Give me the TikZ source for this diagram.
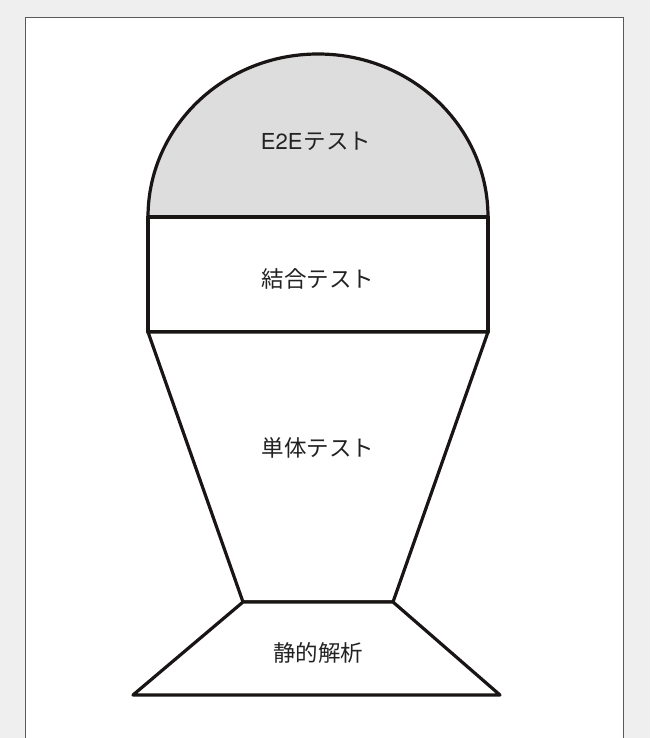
\documentclass[tikz,border=0pt]{standalone}
\usepackage{fontspec}
\newfontfamily\jpfont{Noto Sans CJK JP}
\newfontfamily\latfont{TeX Gyre Heros}
\definecolor{bggray}{HTML}{EEEFEE}
\definecolor{domegray}{HTML}{DCDDDC}
\definecolor{inkblack}{HTML}{1A1515}
\definecolor{txt}{HTML}{222222}
\tikzset{
  shapeline/.style={draw=inkblack, line width=3.2pt, line join=round, line cap=round},
  label/.style={font=\jpfont\fontsize{22.5}{26}\selectfont, text=txt, inner sep=0pt}
}
\begin{document}
\begin{tikzpicture}[x=1pt,y=-1pt]
\useasboundingbox (0,0) rectangle (650,738);
\fill[bggray] (0,0) rectangle (650,738);
\draw[fill=white, draw=black!65, line width=0.9pt] (25,17) rectangle (623,745);
% dome
\path[shapeline, fill=domegray] (148,217) .. controls (148,127) and (224,54) .. (318,54)
   .. controls (412,54) and (488,127) .. (488,217) -- cycle;
% integration rectangle
\path[shapeline, fill=white] (148,217) rectangle (488,332);
% unit trapezoid
\path[shapeline, fill=white] (148,332) -- (488,332) -- (393,602) -- (243,602) -- cycle;
% static trapezoid
\path[shapeline, fill=white] (243,602) -- (393,602) -- (500,695) -- (133,695) -- cycle;
\node[label] (e2e) at (316,141) {{\latfont\fontsize{22}{26}\selectfont E2E}\hspace{1pt}テスト};
\node[label] (integ) at (318,279) {結合テスト};
\node[label] (unit) at (318,448) {単体テスト};
\node[label] (static) at (318,653) {静的解析};
\end{tikzpicture}
\end{document}
